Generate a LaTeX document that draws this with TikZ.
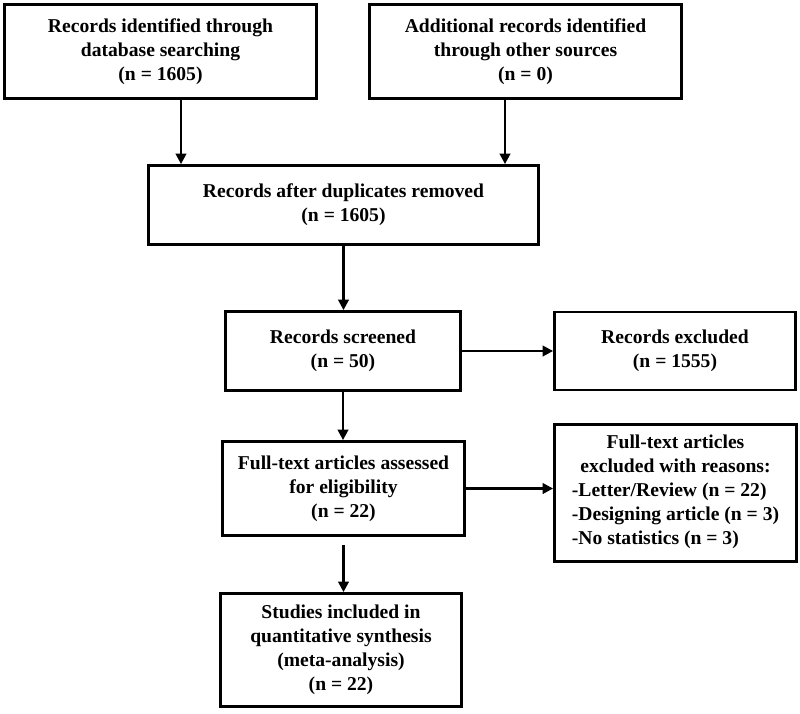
\documentclass[tikz,border=0pt]{standalone}
\usepackage{fontspec}
\setmainfont{Liberation Serif}
\usetikzlibrary{arrows.meta}

\tikzset{
  box/.style={draw, line width=2.8pt, inner sep=0pt, align=center,
    font=\bfseries\fontsize{19.6}{24}\selectfont},
  arr/.style={line width=2.4pt, -{Triangle[length=10.5pt,width=10.5pt]}}
}

\begin{document}
\begin{tikzpicture}[x=1pt,y=-1pt]
\useasboundingbox (0,0) rectangle (800,713);

% identification
\node[box, minimum width=312pt, minimum height=94pt] (ident) at (160.5,51.5)
  {Records identified through\\database searching\\(n = 1605)};
\node[box, minimum width=312pt, minimum height=94pt] (other) at (525.5,51.5)
  {Additional records identified\\through other sources\\(n = 0)};

% screening
\node[box, minimum width=390pt, minimum height=79pt] (dup) at (343.5,205)
  {Records after duplicates removed\\(n = 1605)};
\node[box, minimum width=235pt, minimum height=79pt] (screen) at (343,351)
  {Records screened\\(n = 50)};
\node[box, minimum width=241pt, minimum height=78pt] (excl) at (675,351)
  {Records excluded\\(n = 1555)};

% eligibility
\node[box, minimum width=242pt, minimum height=94pt] (full) at (343.5,488.5)
  {Full-text articles assessed\\for eligibility\\(n = 22)};
\node[box, minimum width=242pt, minimum height=137pt] (fexcl) at (675.5,493)
  {Full-text articles\\excluded with reasons:\\
   \begin{tabular}[t]{@{}l@{}}-Letter/Review (n = 22)\\-Designing article (n = 3)\\-No statistics (n = 3)\end{tabular}};

% included
\node[box, minimum width=241pt, minimum height=113pt] (incl) at (341,650)
  {Studies included in\\quantitative synthesis\\(meta-analysis)\\(n = 22)};

\draw[arr] ([xshift=20.5pt]ident.south) -- ([xshift=20.5pt]ident.south |- dup.north);
\draw[arr] ([xshift=-20.5pt]other.south) -- ([xshift=-20.5pt]other.south |- dup.north);
\draw[arr] (dup.south) -- (dup.south |- screen.north);
\draw[arr] (screen.east) -- (excl.west);
\draw[arr] (screen.south) -- (screen.south |- full.north);
\draw[arr] (full.east) -- (full.east -| fexcl.west);
\draw[arr, shorten <=8pt] (full.south) -- (full.south |- incl.north);
\end{tikzpicture}
\end{document}
